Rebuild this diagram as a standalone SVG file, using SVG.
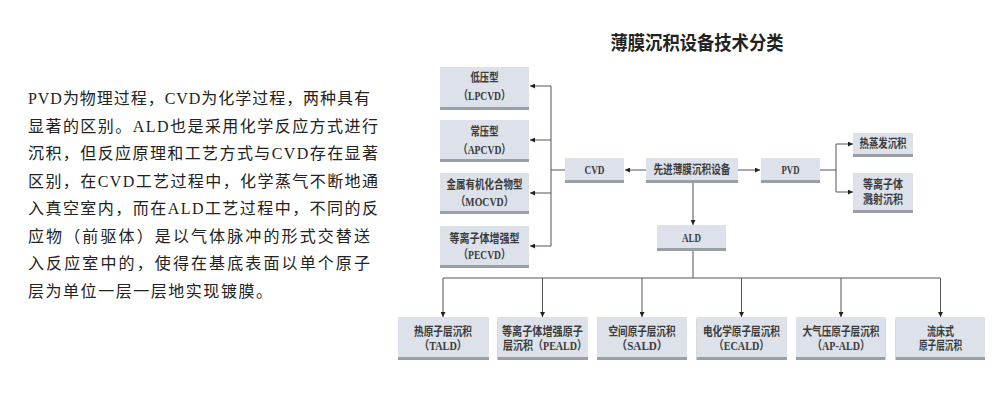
<svg xmlns="http://www.w3.org/2000/svg" width="1000" height="400" viewBox="0 0 1000 400">
<defs>
<style>
.bx{fill:#dde2ea}
.sh{fill:#9a9ea5}
.t{font-family:"Liberation Serif","Noto Sans CJK SC",serif;font-size:12px;fill:#3a3a3a;text-anchor:middle;font-weight:bold}
.c{stroke:#555;stroke-width:1;fill:none}
.p{font-family:"Liberation Serif","Noto Sans CJK SC",serif;font-size:16px;fill:#222}
.ttl{font-family:"Noto Sans CJK SC",sans-serif;font-size:19px;font-weight:bold;fill:#222;text-anchor:middle}
</style>
<marker id="ah" viewBox="0 0 10 10" refX="10" refY="5" markerWidth="5" markerHeight="5" markerUnits="userSpaceOnUse" orient="auto">
<path d="M0,0 L10,5 L0,10 z" fill="#222"/>
</marker>
</defs>
<rect width="1000" height="400" fill="#fff"/>

<g id="paragraph">
<text class="p" x="28" y="104" textLength="342" lengthAdjust="spacing">PVD为物理过程，CVD为化学过程，两种具有</text>
<text class="p" x="28" y="131.5" textLength="350" lengthAdjust="spacing">显著的区别。ALD也是采用化学反应方式进行</text>
<text class="p" x="28" y="159" textLength="350" lengthAdjust="spacing">沉积，但反应原理和工艺方式与CVD存在显著</text>
<text class="p" x="28" y="186.5" textLength="350" lengthAdjust="spacing">区别，在CVD工艺过程中，化学蒸气不断地通</text>
<text class="p" x="28" y="214" textLength="350" lengthAdjust="spacing">入真空室内，而在ALD工艺过程中，不同的反</text>
<text class="p" x="28" y="241.5" textLength="342" lengthAdjust="spacing">应物（前驱体）是以气体脉冲的形式交替送</text>
<text class="p" x="28" y="269" textLength="342" lengthAdjust="spacing">入反应室中的，使得在基底表面以单个原子</text>
<text class="p" x="28" y="296.5" textLength="244" lengthAdjust="spacing">层为单位一层一层地实现镀膜。</text>
</g>

<g id="title"><text class="ttl" x="697" y="50" textLength="173" lengthAdjust="spacingAndGlyphs">薄膜沉积设备技术分类</text></g>

<g id="connectors">
<line class="c" x1="646" y1="170" x2="625" y2="170" marker-end="url(#ah)"/>
<line class="c" x1="738" y1="170" x2="760" y2="170" marker-end="url(#ah)"/>
<line class="c" x1="693" y1="183" x2="693" y2="225" marker-end="url(#ah)"/>
<line class="c" x1="565" y1="170" x2="551" y2="170"/>
<line class="c" x1="551" y1="86" x2="551" y2="246"/>
<line class="c" x1="551" y1="86" x2="530" y2="86" marker-end="url(#ah)"/>
<line class="c" x1="551" y1="140" x2="530" y2="140" marker-end="url(#ah)"/>
<line class="c" x1="551" y1="193" x2="530" y2="193" marker-end="url(#ah)"/>
<line class="c" x1="551" y1="246" x2="530" y2="246" marker-end="url(#ah)"/>
<line class="c" x1="820" y1="170" x2="836" y2="170"/>
<line class="c" x1="836" y1="144" x2="836" y2="192"/>
<line class="c" x1="836" y1="144" x2="853" y2="144" marker-end="url(#ah)"/>
<line class="c" x1="836" y1="192" x2="853" y2="192" marker-end="url(#ah)"/>
<line class="c" x1="693" y1="251" x2="693" y2="278"/>
<line class="c" x1="443" y1="278" x2="940.5" y2="278"/>
<line class="c" x1="443" y1="278" x2="443" y2="317" marker-end="url(#ah)"/>
<line class="c" x1="542.5" y1="278" x2="542.5" y2="317" marker-end="url(#ah)"/>
<line class="c" x1="642" y1="278" x2="642" y2="317" marker-end="url(#ah)"/>
<line class="c" x1="741.5" y1="278" x2="741.5" y2="317" marker-end="url(#ah)"/>
<line class="c" x1="841" y1="278" x2="841" y2="317" marker-end="url(#ah)"/>
<line class="c" x1="940.5" y1="278" x2="940.5" y2="317" marker-end="url(#ah)"/>
</g>

<g id="lpcvd">
<rect class="sh" x="440" y="69" width="89" height="41"/><rect class="bx" x="440" y="67" width="89" height="40"/>
<text class="t" x="484.5" y="82" textLength="28" lengthAdjust="spacingAndGlyphs">低压型</text>
<text class="t" x="484.5" y="100" textLength="52" lengthAdjust="spacingAndGlyphs">（LPCVD）</text>
</g>
<g id="apcvd">
<rect class="sh" x="440" y="122" width="89" height="40"/><rect class="bx" x="440" y="120" width="89" height="39"/>
<text class="t" x="484.5" y="136" textLength="28" lengthAdjust="spacingAndGlyphs">常压型</text>
<text class="t" x="484.5" y="154" textLength="53" lengthAdjust="spacingAndGlyphs">（APCVD）</text>
</g>
<g id="mocvd">
<rect class="sh" x="440" y="175" width="89" height="39"/><rect class="bx" x="440" y="173" width="89" height="38"/>
<text class="t" x="484.5" y="189" textLength="76" lengthAdjust="spacingAndGlyphs">金属有机化合物型</text>
<text class="t" x="484.5" y="206" textLength="58" lengthAdjust="spacingAndGlyphs">（MOCVD）</text>
</g>
<g id="pecvd">
<rect class="sh" x="440" y="228" width="89" height="40"/><rect class="bx" x="440" y="226" width="89" height="39"/>
<text class="t" x="484.5" y="242.5" textLength="70" lengthAdjust="spacingAndGlyphs">等离子体增强型</text>
<text class="t" x="484.5" y="259" textLength="52" lengthAdjust="spacingAndGlyphs">（PECVD）</text>
</g>

<g id="cvd">
<rect class="sh" x="565" y="160" width="59" height="23"/><rect class="bx" x="565" y="158" width="59" height="22"/>
<text class="t" x="594.5" y="174" textLength="20" lengthAdjust="spacingAndGlyphs">CVD</text>
</g>
<g id="root">
<rect class="sh" x="646" y="160" width="92" height="23"/><rect class="bx" x="646" y="158" width="92" height="22"/>
<text class="t" x="692" y="174" textLength="77" lengthAdjust="spacingAndGlyphs">先进薄膜沉积设备</text>
</g>
<g id="pvd">
<rect class="sh" x="761" y="160" width="59" height="23"/><rect class="bx" x="761" y="158" width="59" height="22"/>
<text class="t" x="790.5" y="174" textLength="18" lengthAdjust="spacingAndGlyphs">PVD</text>
</g>
<g id="ald">
<rect class="sh" x="657" y="227" width="69" height="24"/><rect class="bx" x="657" y="225" width="69" height="23"/>
<text class="t" x="691.5" y="242" textLength="19" lengthAdjust="spacingAndGlyphs">ALD</text>
</g>
<g id="thermal-evap">
<rect class="sh" x="853" y="135" width="60" height="22"/><rect class="bx" x="853" y="133" width="60" height="21"/>
<text class="t" x="883" y="148" textLength="47" lengthAdjust="spacingAndGlyphs">热蒸发沉积</text>
</g>
<g id="sputter">
<rect class="sh" x="853" y="175" width="60" height="38"/><rect class="bx" x="853" y="173" width="60" height="37"/>
<text class="t" x="883" y="189" textLength="40" lengthAdjust="spacingAndGlyphs">等离子体</text>
<text class="t" x="883" y="204" textLength="40" lengthAdjust="spacingAndGlyphs">溅射沉积</text>
</g>

<g id="tald">
<rect class="sh" x="398" y="319" width="91" height="41"/><rect class="bx" x="398" y="317" width="91" height="40"/>
<text class="t" x="443" y="336" textLength="58" lengthAdjust="spacingAndGlyphs">热原子层沉积</text>
<text class="t" x="443" y="350" textLength="48" lengthAdjust="spacingAndGlyphs">（TALD）</text>
</g>
<g id="peald">
<rect class="sh" x="497.5" y="319" width="90.5" height="41"/><rect class="bx" x="497.5" y="317" width="90.5" height="40"/>
<text class="t" x="542.5" y="336" textLength="81" lengthAdjust="spacingAndGlyphs">等离子体增强原子</text>
<text class="t" x="545" y="350" textLength="84" lengthAdjust="spacingAndGlyphs">层沉积（PEALD）</text>
</g>
<g id="sald">
<rect class="sh" x="597" y="319" width="90" height="41"/><rect class="bx" x="597" y="317" width="90" height="40"/>
<text class="t" x="642" y="336" textLength="67" lengthAdjust="spacingAndGlyphs">空间原子层沉积</text>
<text class="t" x="642" y="350" textLength="52" lengthAdjust="spacingAndGlyphs">（SALD）</text>
</g>
<g id="ecald">
<rect class="sh" x="696.5" y="319" width="90.5" height="41"/><rect class="bx" x="696.5" y="317" width="90.5" height="40"/>
<text class="t" x="741.5" y="336" textLength="77" lengthAdjust="spacingAndGlyphs">电化学原子层沉积</text>
<text class="t" x="741.5" y="350" textLength="56" lengthAdjust="spacingAndGlyphs">（ECALD）</text>
</g>
<g id="apald">
<rect class="sh" x="796" y="319" width="89.5" height="41"/><rect class="bx" x="796" y="317" width="89.5" height="40"/>
<text class="t" x="841" y="336" textLength="77" lengthAdjust="spacingAndGlyphs">大气压原子层沉积</text>
<text class="t" x="841" y="350" textLength="58" lengthAdjust="spacingAndGlyphs">（AP-ALD）</text>
</g>
<g id="fluidized">
<rect class="sh" x="895.5" y="319" width="89.5" height="41"/><rect class="bx" x="895.5" y="317" width="89.5" height="40"/>
<text class="t" x="940.5" y="336" textLength="27" lengthAdjust="spacingAndGlyphs">流床式</text>
<text class="t" x="940.5" y="350" textLength="43" lengthAdjust="spacingAndGlyphs">原子层沉积</text>
</g>
</svg>
